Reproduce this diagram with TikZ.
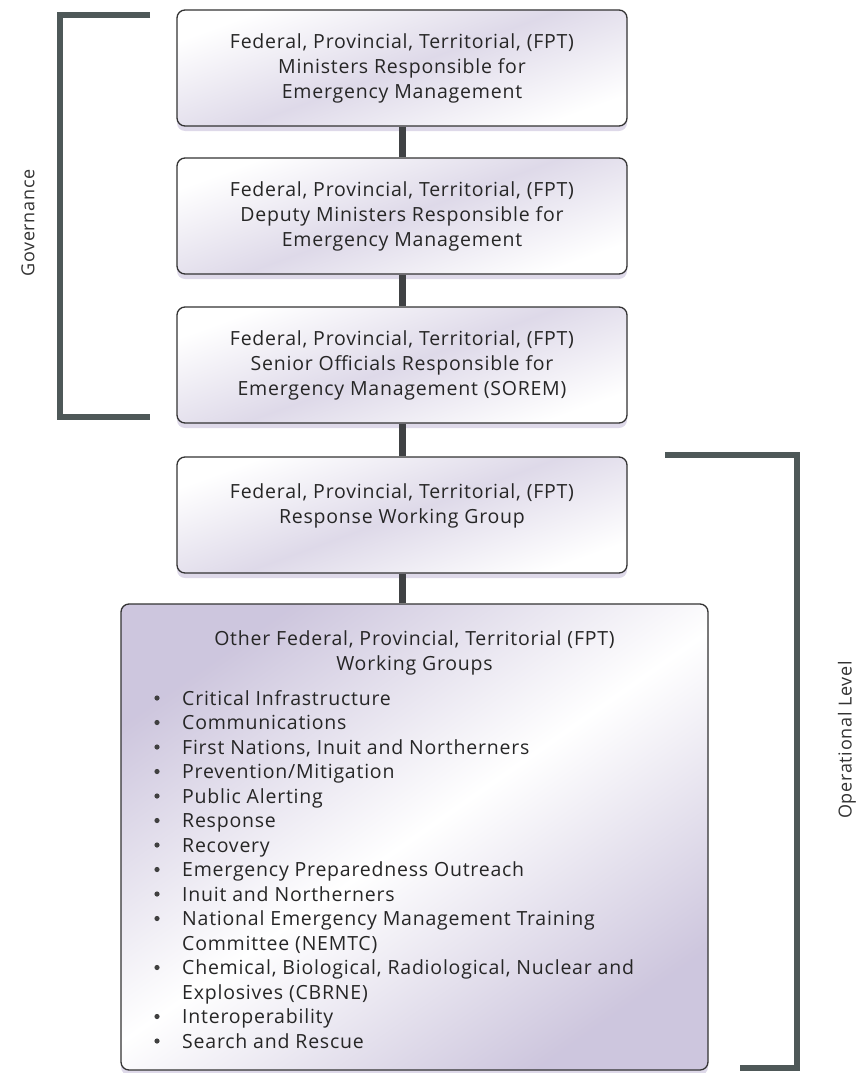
\documentclass[tikz,border=0pt]{standalone}
\usepackage{fontspec}
\setmainfont{Open Sans}[LetterSpace=4]
\usetikzlibrary{shadows}

\definecolor{lilac}{RGB}{200,192,218}
\definecolor{linegrey}{RGB}{64,66,68}
\definecolor{bracketgrey}{RGB}{78,88,88}

\tikzset{
  boxtext/.style={align=center, inner sep=0pt, font=\fontsize{19.5}{25}\selectfont, text=black!85},
  fptbox/.style={boxtext, draw=black!80, line width=1.3pt, rounded corners=8pt,
    minimum width=450pt, minimum height=116pt,
    left color=white, right color=white, middle color=lilac!60, shading angle=20,
    drop shadow={shadow xshift=0pt, shadow yshift=-5pt, fill=lilac, opacity=0.6}},
  link/.style={line width=7pt, linegrey},
  bracket/.style={line width=6pt, bracketgrey},
  sidelabel/.style={rotate=90, font=\fontsize{18}{20}\selectfont, text=black!80},
  itemtext/.style={anchor=base west, inner sep=0pt, font=\fontsize{19.5}{25}\selectfont, text=black!85}
}

\begin{document}
\begin{tikzpicture}[x=1pt,y=-1pt]
\useasboundingbox (0,0) rectangle (860,1073);

\node[fptbox] (fptmin) at (402,68) {Federal, Provincial, Territorial, (FPT)\\Ministers Responsible for\\Emergency Management};
\node[fptbox] (fptdep) at (402,216) {Federal, Provincial, Territorial, (FPT)\\Deputy Ministers Responsible for\\Emergency Management};
\node[fptbox] (fptsorem) at (402,365) {Federal, Provincial, Territorial, (FPT)\\Senior Officials Responsible for\\Emergency Management (SOREM)};
\node[fptbox] (fptresp) at (402,515) {Federal, Provincial, Territorial, (FPT)\\Response Working Group\\[-10pt]\strut};
\node[fptbox, minimum width=587pt, minimum height=466pt, left color=lilac!90, right color=lilac!90, middle color=white, shading angle=35] (fptother) at (414.5,837) {};

\node[boxtext] (othertitle) at (414.5,653) {Other Federal, Provincial, Territorial (FPT)\\Working Groups};

\foreach \b/\t [count=\i] in {1/Critical Infrastructure, 1/Communications, 1/{First Nations, Inuit and Northerners},
  1/{Prevention/Mitigation}, 1/Public Alerting, 1/Response, 1/Recovery, 1/Emergency Preparedness Outreach,
  1/Inuit and Northerners, 1/National Emergency Management Training, 0/Committee (NEMTC),
  1/{Chemical, Biological, Radiological, Nuclear and}, 0/Explosives (CBRNE), 1/Interoperability, 1/Search and Rescue} {
\node[itemtext] (item\i) at (182, 705+24.5*\i-24.5) {\t};
\ifnum\b=1 \fill[black!75] (157, 698+24.5*\i-24.5) circle (2.6pt); \fi
}

\draw[link] (fptmin.south) -- (fptdep.north);
\draw[link] (fptdep.south) -- (fptsorem.north);
\draw[link] (fptsorem.south) -- (fptresp.north);
\draw[link] (fptresp.south) -- (fptother.north -| fptresp.south);

\coordinate (govtop) at (150,15);
\coordinate (govbot) at (150,417);
\draw[bracket] (govtop) -- (60,15) -- (60,417) -- (govbot);
\node[sidelabel] (govlabel) at (28,223) {Governance};

\coordinate (optop) at (665,455);
\coordinate (opbot) at (740,1068);
\draw[bracket] (optop) -- (797,455) -- (797,1068) -- (opbot);
\node[sidelabel] (oplabel) at (847,740) {Operational Level};
\end{tikzpicture}
\end{document}
